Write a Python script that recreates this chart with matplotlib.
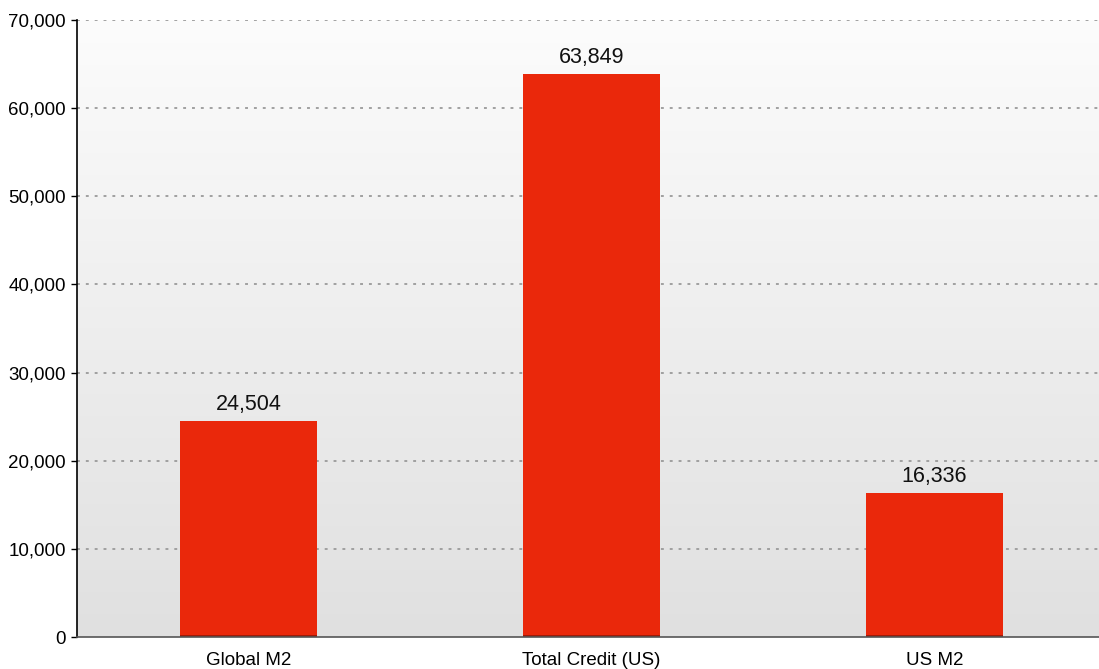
import numpy as np
import matplotlib
matplotlib.use("Agg")
import matplotlib.pyplot as plt
from matplotlib.ticker import FuncFormatter

categorias = ["Global M2", "Total Credit (US)", "US M2"]
valores = [24504, 63849, 16336]
yticks = [0, 10000, 20000, 30000, 40000, 50000, 60000, 70000]

plt.rcParams["font.family"] = ["Liberation Sans", "DejaVu Sans"]

fig = plt.figure(figsize=(10.99, 6.69), dpi=100)
ax = fig.add_axes([0.0701, 0.0478, 0.9299, 0.9222])

# fundo em degradê (branco no topo, cinza embaixo)
grad = np.linspace(0, 1, 256).reshape(-1, 1)
ax.imshow(grad, extent=[-0.5, 2.48, 0, 70000], aspect="auto",
          cmap=matplotlib.colors.LinearSegmentedColormap.from_list(
              "bg", ["#fcfcfc", "#e0e0e0"]),
          origin="upper", zorder=0)

x = np.arange(len(categorias))
ax.bar(x, valores, width=0.40, color="#ea280b", zorder=3)
# linha escura na base das barras
ax.bar(x, [250] * len(valores), width=0.40, color="#a01a08", zorder=4)

for xi, v in zip(x, valores):
    ax.text(xi, v + 700, f"{v:,}", ha="center", va="bottom",
            fontsize=15.5, color="#111111", zorder=5)

ax.set_xlim(-0.5, 2.48)
ax.set_ylim(0, 70000)
ax.set_yticks(yticks)
ax.yaxis.set_major_formatter(FuncFormatter(lambda v, p: f"{int(v):,}"))
ax.set_xticks(x)
ax.set_xticklabels(categorias)
ax.tick_params(axis="y", length=4, width=1, labelsize=13.5, pad=4)
ax.tick_params(axis="x", length=0, labelsize=13.5, pad=11)

for t in yticks[1:]:
    ax.axhline(t, color="#9a9a9a", lw=1.3, ls=(0, (1.6, 3.3)), zorder=2)

for s in ["top", "right"]:
    ax.spines[s].set_visible(False)
ax.spines["left"].set_color("black")
ax.spines["left"].set_linewidth(1.2)
ax.spines["bottom"].set_color("#555555")
ax.spines["bottom"].set_linewidth(1.2)
ax.spines["left"].set_zorder(6)
ax.spines["bottom"].set_zorder(6)

fig.savefig("out.png", dpi=100)
